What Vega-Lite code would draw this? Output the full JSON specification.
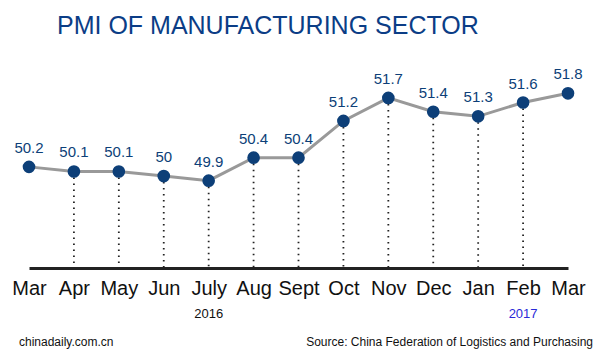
{
  "$schema": "https://vega.github.io/schema/vega-lite/v6.json",
  "width": 539,
  "height": 208,
  "autosize": {"type": "none"},
  "padding": {"left": 29, "right": 32, "top": 60, "bottom": 83},
  "background": "white",
  "config": {"view": {"stroke": null}, "font": "Liberation Sans"},
  "title": {
    "text": "PMI OF MANUFACTURING SECTOR",
    "anchor": "start",
    "frame": "group",
    "font": "Liberation Sans",
    "fontSize": 25,
    "fontWeight": "normal",
    "color": "#0b3d86",
    "baseline": "alphabetic",
    "dx": 28,
    "offset": 1
  },
  "datasets": {
    "pmi": [
      {"key": "Mar 2016", "pmi": 50.2},
      {"key": "Apr 2016", "pmi": 50.1},
      {"key": "May 2016", "pmi": 50.1},
      {"key": "Jun 2016", "pmi": 50},
      {"key": "July 2016", "pmi": 49.9},
      {"key": "Aug 2016", "pmi": 50.4},
      {"key": "Sept 2016", "pmi": 50.4},
      {"key": "Oct 2016", "pmi": 51.2},
      {"key": "Nov 2016", "pmi": 51.7},
      {"key": "Dec 2016", "pmi": 51.4},
      {"key": "Jan 2017", "pmi": 51.3},
      {"key": "Feb 2017", "pmi": 51.6},
      {"key": "Mar 2017", "pmi": 51.8}
    ]
  },
  "encoding": {
    "x": {
      "field": "key",
      "type": "ordinal",
      "scale": {
        "type": "point",
        "padding": 0,
        "domain": ["Mar 2016", "Apr 2016", "May 2016", "Jun 2016", "July 2016", "Aug 2016", "Sept 2016", "Oct 2016", "Nov 2016", "Dec 2016", "Jan 2017", "Feb 2017", "Mar 2017"]
      },
      "axis": {
        "title": null,
        "labelExpr": "split(datum.value, ' ')[0]",
        "labelAngle": 0,
        "labelFont": "Liberation Sans",
        "labelFontSize": 20,
        "labelColor": "#111111",
        "labelPadding": 10,
        "ticks": false,
        "grid": false,
        "domain": true,
        "domainColor": "#222222",
        "domainWidth": 3,
        "labelOverlap": false
      }
    }
  },
  "layer": [
    {
      "data": {"name": "pmi"},
      "transform": [{"filter": "datum.key !== 'Mar 2016' && datum.key !== 'Mar 2017'"}],
      "mark": {"type": "rule", "stroke": "#222222", "strokeWidth": 1.8, "strokeDash": [1.5, 4.5]},
      "encoding": {
        "y": {"field": "pmi", "type": "quantitative", "scale": {"domain": [48, 52.525], "zero": false, "nice": false}, "axis": null},
        "y2": {"datum": 48}
      }
    },
    {
      "data": {"name": "pmi"},
      "mark": {"type": "line", "stroke": "#999999", "strokeWidth": 3},
      "encoding": {
        "y": {"field": "pmi", "type": "quantitative"}
      }
    },
    {
      "data": {"name": "pmi"},
      "mark": {"type": "circle", "size": 160, "color": "#0d3f78", "opacity": 1},
      "encoding": {
        "y": {"field": "pmi", "type": "quantitative"}
      }
    },
    {
      "data": {"name": "pmi"},
      "mark": {"type": "text", "dy": -14, "baseline": "alphabetic", "fontSize": 15, "font": "Liberation Sans", "color": "#0d3f78"},
      "encoding": {
        "y": {"field": "pmi", "type": "quantitative"},
        "text": {"field": "pmi", "type": "nominal"}
      }
    },
    {
      "data": {"values": [{"key": "July 2016", "year": "2016"}]},
      "mark": {"type": "text", "baseline": "alphabetic", "fontSize": 13, "font": "Liberation Sans", "color": "#111111"},
      "encoding": {
        "y": {"datum": 46.912},
        "text": {"field": "year"}
      }
    },
    {
      "data": {"values": [{"key": "Feb 2017", "year": "2017"}]},
      "mark": {"type": "text", "baseline": "alphabetic", "fontSize": 13, "font": "Liberation Sans", "color": "#2a2ad8"},
      "encoding": {
        "y": {"datum": 46.912},
        "text": {"field": "year"}
      }
    },
    {
      "data": {"values": [{"key": "Mar 2016", "note": "chinadaily.com.cn"}]},
      "mark": {"type": "text", "baseline": "alphabetic", "align": "left", "dx": -10, "fontSize": 12, "font": "Liberation Sans", "color": "#111111"},
      "encoding": {
        "y": {"datum": 46.303},
        "text": {"field": "note"}
      }
    },
    {
      "data": {"values": [{"key": "Mar 2017", "note": "Source: China Federation of Logistics and Purchasing"}]},
      "mark": {"type": "text", "baseline": "alphabetic", "align": "right", "dx": 25, "fontSize": 12, "font": "Liberation Sans", "color": "#111111"},
      "encoding": {
        "y": {"datum": 46.303},
        "text": {"field": "note"}
      }
    }
  ]
}
